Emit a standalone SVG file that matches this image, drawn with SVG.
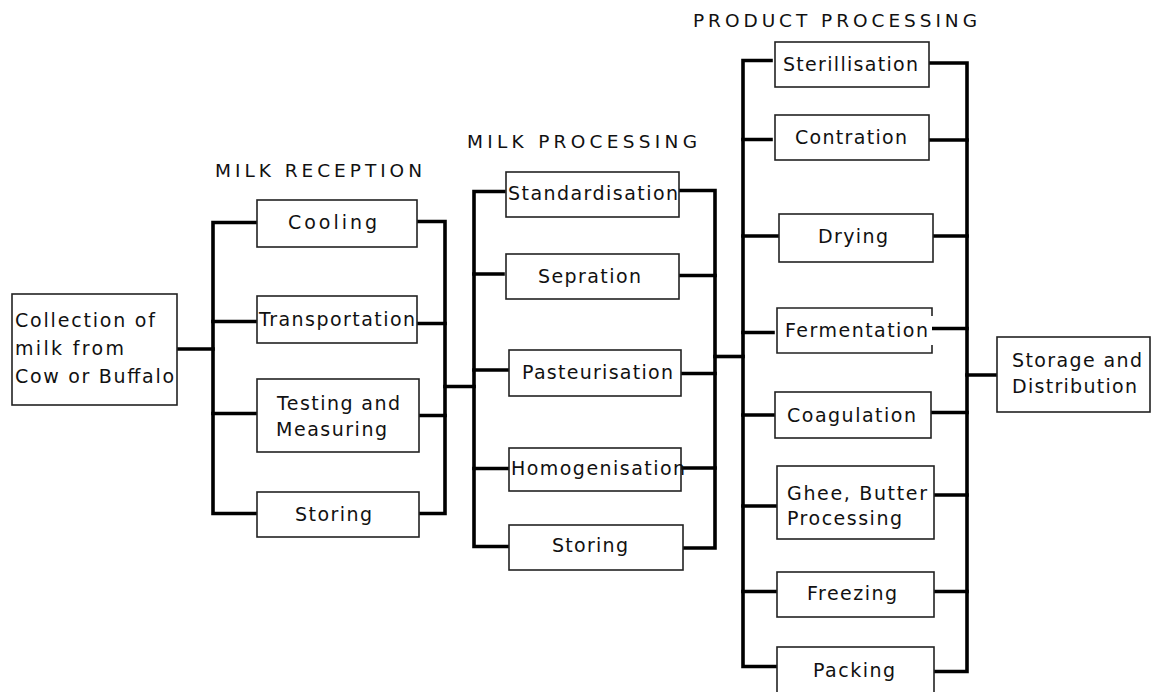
<svg xmlns="http://www.w3.org/2000/svg" width="1152" height="692" viewBox="0 0 1152 692">
<style>
.box{fill:#fff;stroke:#222;stroke-width:1.6}
.t{font-family:"DejaVu Sans","Verdana",sans-serif;font-size:19px;fill:#111}
.h{font-family:"DejaVu Sans","Verdana",sans-serif;font-size:18.5px;fill:#111}
.c{stroke:#000;stroke-width:3.6;fill:none;stroke-linecap:square;stroke-linejoin:miter}
</style>
<rect width="1152" height="692" fill="#fff"/>

<g id="connectors">
<path class="c" d="M177,349 H213"/>
<path class="c" d="M257,222.5 H213 V513.5 H257"/>
<path class="c" d="M213,321.5 H257 M213,413.5 H257"/>
<path class="c" d="M417,221.5 H445 V513.5 H419"/>
<path class="c" d="M417,323.5 H445 M419,415.5 H445"/>
<path class="c" d="M445,386.5 H474"/>
<path class="c" d="M504,191.5 H474 V546.5 H509"/>
<path class="c" d="M474,274 H503 M474,370 H509 M474,468.5 H509"/>
<path class="c" d="M679,190.5 H715 V548 H683"/>
<path class="c" d="M679,275.5 H715 M681,373.5 H715 M681,468 H715"/>
<path class="c" d="M715,356.5 H743"/>
<path class="c" d="M771,60.5 H743 V666.5 H777"/>
<path class="c" d="M743,139.5 H771 M743,236 H779 M743,332.5 H773 M743,415 H775 M743,506 H777 M743,591.5 H777"/>
<path class="c" d="M929,63 H967 V671.5 H934"/>
<path class="c" d="M929,140 H967 M933,236 H967 M932,328.5 H967 M931,412.5 H967 M934,495 H967 M934,591.5 H967"/>
<path class="c" d="M967,375 H997"/>
</g>

<g id="labels">
<text class="h" x="215" y="177" textLength="207" lengthAdjust="spacing">MILK RECEPTION</text>
<text class="h" x="467" y="148" textLength="230" lengthAdjust="spacing">MILK PROCESSING</text>
<text class="h" x="693" y="27" textLength="284" lengthAdjust="spacing">PRODUCT PROCESSING</text>
</g>

<g id="collection">
<rect class="box" x="12" y="294" width="165" height="111"/>
<text class="t" x="15" y="327" textLength="140" lengthAdjust="spacing">Collection of</text>
<text class="t" x="15" y="355" textLength="109" lengthAdjust="spacing">milk from</text>
<text class="t" x="15" y="383" textLength="159" lengthAdjust="spacing">Cow or Buffalo</text>
</g>

<g id="cooling">
<rect class="box" x="257" y="200" width="160" height="47"/>
<text class="t" x="288" y="229" textLength="89" lengthAdjust="spacing">Cooling</text>
</g>
<g id="transportation">
<rect class="box" x="257" y="296" width="160" height="47"/>
<text class="t" x="259" y="326" textLength="156" lengthAdjust="spacing">Transportation</text>
</g>
<g id="testing">
<rect class="box" x="257" y="379" width="162" height="73"/>
<text class="t" x="277" y="410" textLength="123" lengthAdjust="spacing">Testing and</text>
<text class="t" x="276" y="436" textLength="111" lengthAdjust="spacing">Measuring</text>
</g>
<g id="storing1">
<rect class="box" x="257" y="492" width="162" height="45"/>
<text class="t" x="295" y="520.5" textLength="77" lengthAdjust="spacing">Storing</text>
</g>

<g id="standardisation">
<rect class="box" x="506" y="172" width="173" height="45"/>
<text class="t" x="508" y="200" textLength="170" lengthAdjust="spacing">Standardisation</text>
</g>
<g id="sepration">
<rect class="box" x="506" y="254" width="173" height="45"/>
<text class="t" x="538" y="283" textLength="103" lengthAdjust="spacing">Sepration</text>
</g>
<g id="pasteurisation">
<rect class="box" x="509" y="350" width="172" height="46"/>
<text class="t" x="522" y="379" textLength="151" lengthAdjust="spacing">Pasteurisation</text>
</g>
<g id="homogenisation">
<rect class="box" x="509" y="448" width="172" height="43"/>
<text class="t" x="511" y="475" textLength="174" lengthAdjust="spacing">Homogenisation</text>
</g>
<g id="storing2">
<rect class="box" x="509" y="525" width="174" height="45"/>
<text class="t" x="552" y="552" textLength="76" lengthAdjust="spacing">Storing</text>
</g>

<g id="sterillisation">
<rect class="box" x="775" y="42" width="154" height="45"/>
<text class="t" x="783" y="71" textLength="135" lengthAdjust="spacing">Sterillisation</text>
</g>
<g id="contration">
<rect class="box" x="775" y="115" width="154" height="45"/>
<text class="t" x="795" y="144" textLength="112" lengthAdjust="spacing">Contration</text>
</g>
<g id="drying">
<rect class="box" x="779" y="214" width="154" height="48"/>
<text class="t" x="818" y="243" textLength="70" lengthAdjust="spacing">Drying</text>
</g>
<g id="fermentation">
<path class="box" d="M932,316 V308 H777 V353 H932 V345"/>
<text class="t" x="785" y="337" textLength="143" lengthAdjust="spacing">Fermentation</text>
</g>
<g id="coagulation">
<rect class="box" x="775" y="392" width="156" height="46"/>
<text class="t" x="787" y="422" textLength="129" lengthAdjust="spacing">Coagulation</text>
</g>
<g id="ghee">
<rect class="box" x="777" y="466" width="157" height="73"/>
<text class="t" x="787" y="500" textLength="140" lengthAdjust="spacing">Ghee, Butter</text>
<text class="t" x="787" y="525" textLength="115" lengthAdjust="spacing">Processing</text>
</g>
<g id="freezing">
<rect class="box" x="777" y="572" width="157" height="45"/>
<text class="t" x="807" y="600" textLength="90" lengthAdjust="spacing">Freezing</text>
</g>
<g id="packing">
<rect class="box" x="777" y="647" width="157" height="60"/>
<text class="t" x="813" y="677" textLength="82" lengthAdjust="spacing">Packing</text>
</g>

<g id="storage">
<rect class="box" x="997" y="337" width="153" height="75"/>
<text class="t" x="1012" y="367" textLength="130" lengthAdjust="spacing">Storage and</text>
<text class="t" x="1012" y="393" textLength="125" lengthAdjust="spacing">Distribution</text>
</g>
</svg>
